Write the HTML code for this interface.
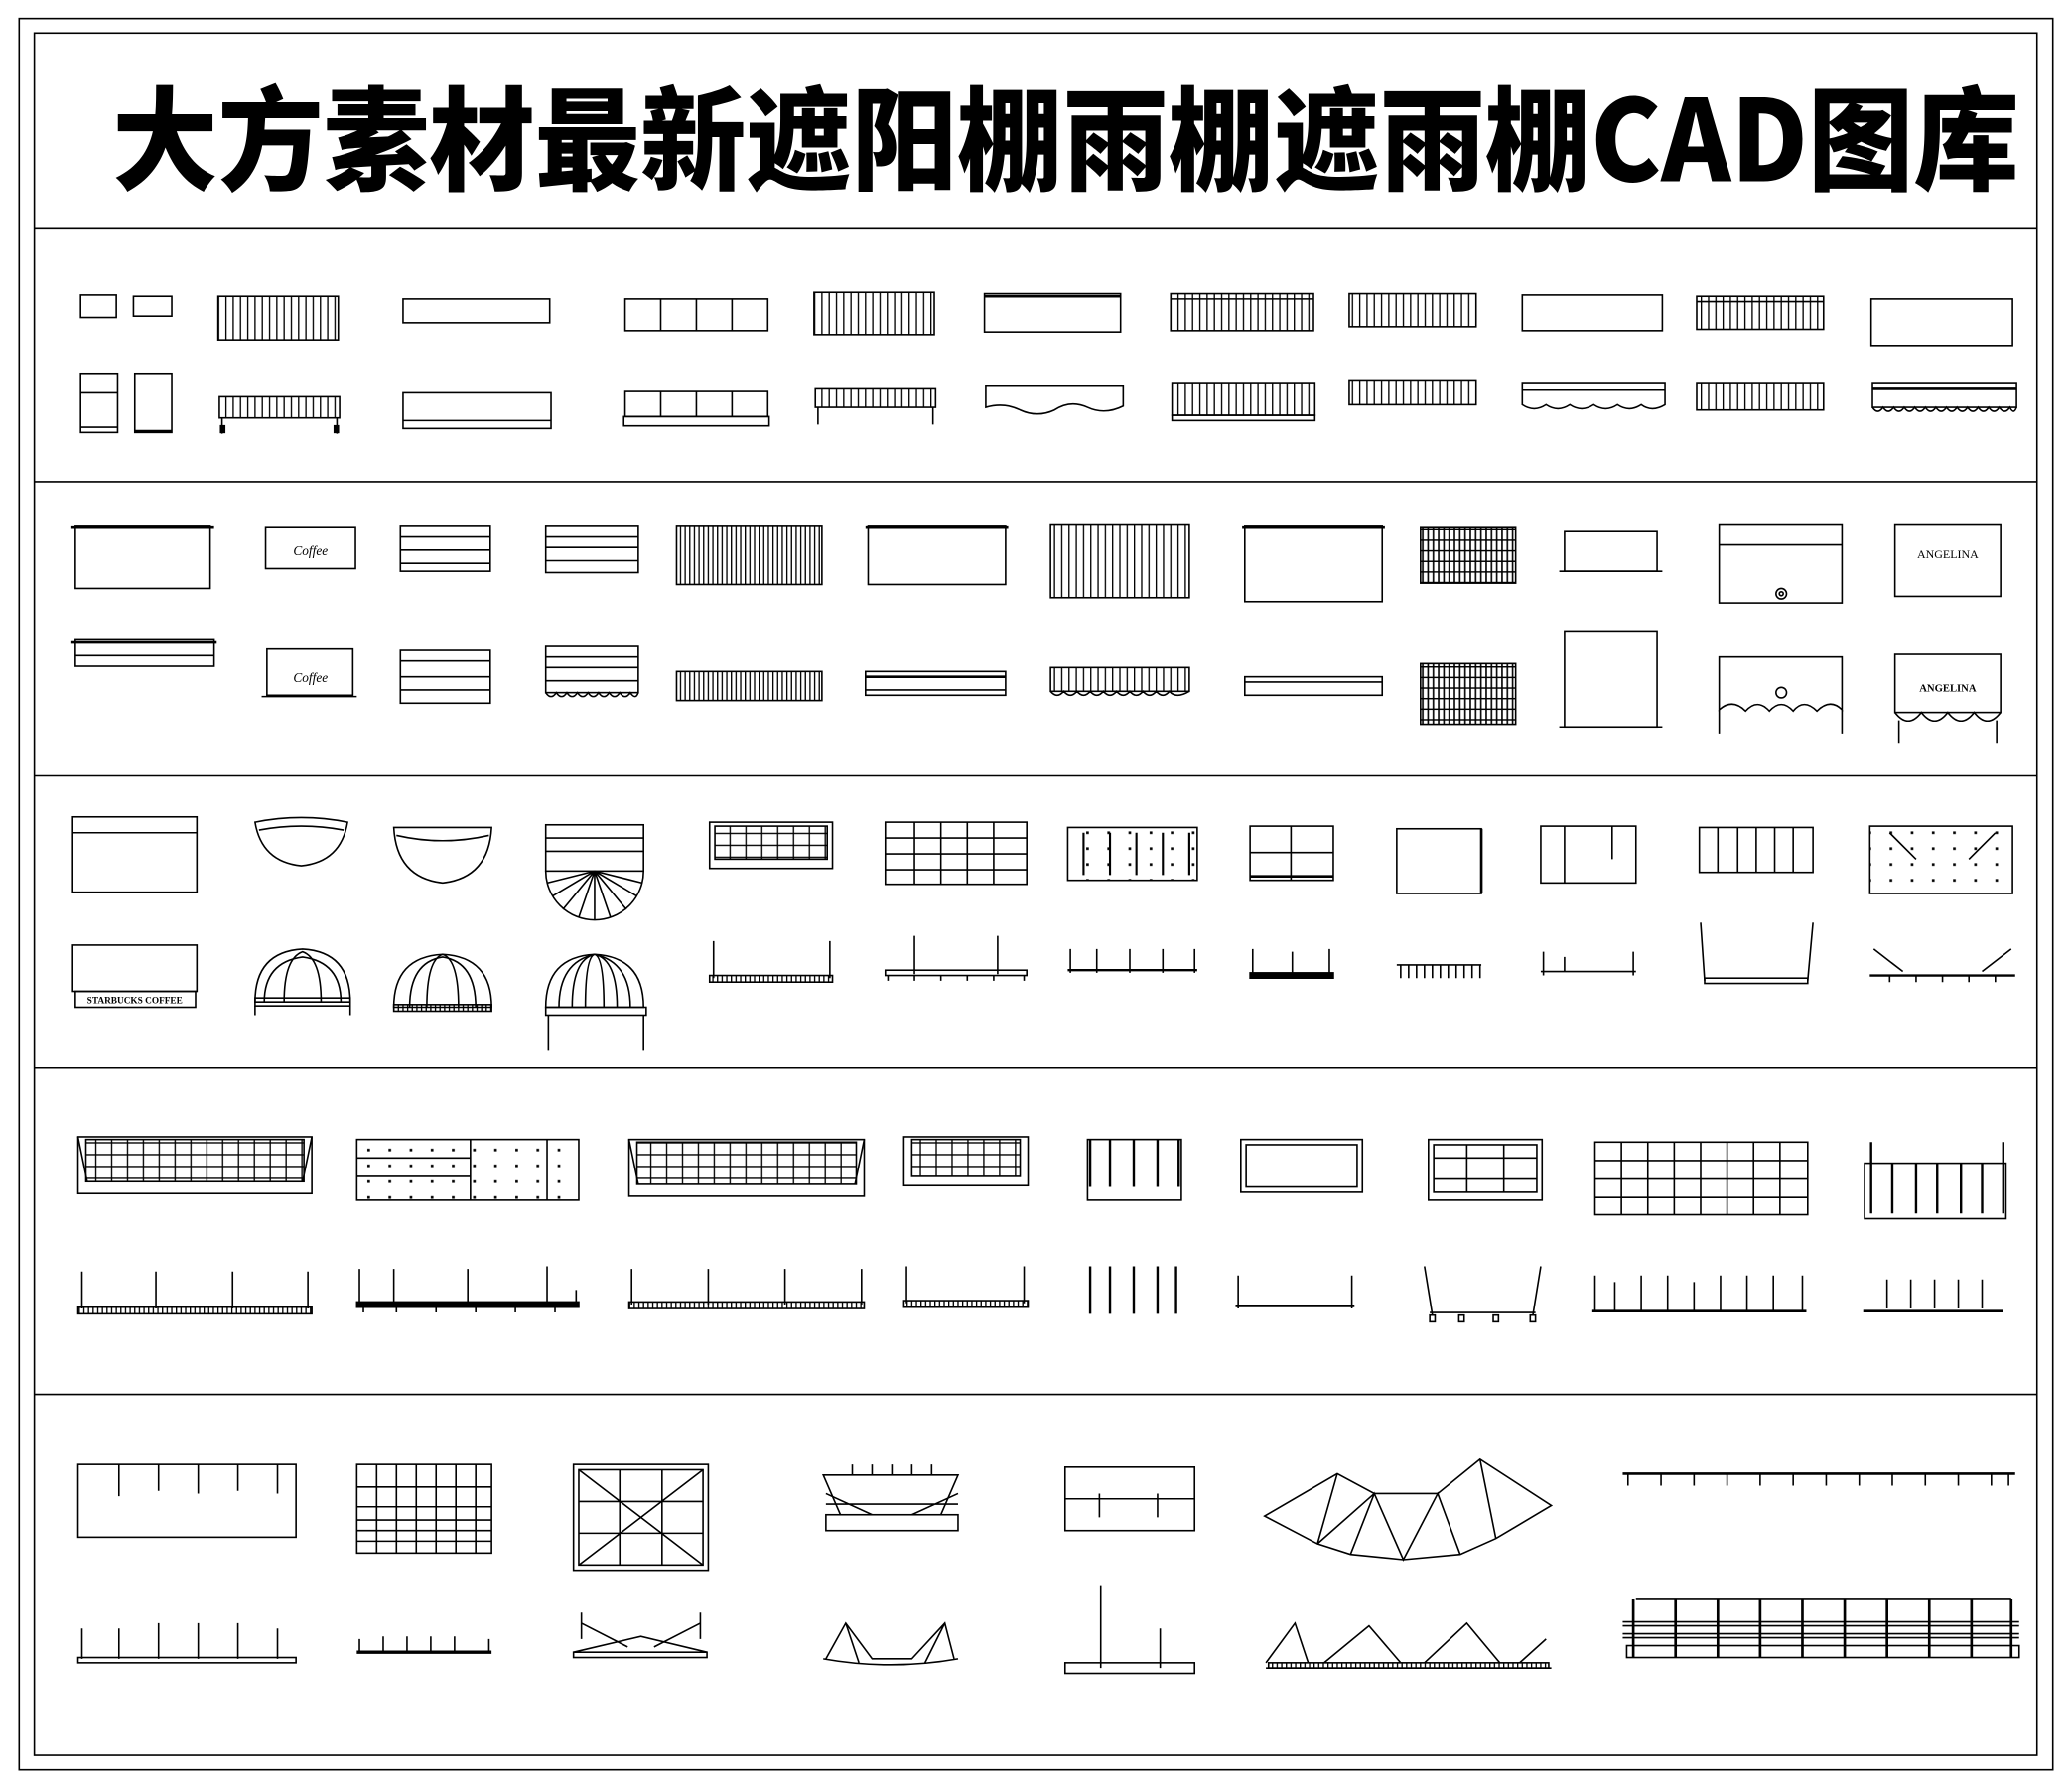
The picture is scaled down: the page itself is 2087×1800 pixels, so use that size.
<!DOCTYPE html>
<html><head><meta charset="utf-8"><style>
html,body{margin:0;padding:0;background:#fff}
svg{display:block}
</style></head><body>
<svg width="2087" height="1800" viewBox="0 0 1568 1352" preserveAspectRatio="none" xmlns="http://www.w3.org/2000/svg">
<defs>
<pattern id="vs" width="5.5" height="10" patternUnits="userSpaceOnUse"><line x1="0.5" y1="0" x2="0.5" y2="10" stroke="#000" stroke-width="1"/></pattern>
<pattern id="vd" width="3.5" height="10" patternUnits="userSpaceOnUse"><line x1="0.5" y1="0" x2="0.5" y2="10" stroke="#000" stroke-width="1"/></pattern>
<pattern id="hs" width="10" height="8" patternUnits="userSpaceOnUse"><line x1="0" y1="0.5" x2="10" y2="0.5" stroke="#000" stroke-width="1"/></pattern>
<pattern id="gr" width="12" height="9" patternUnits="userSpaceOnUse"><path d="M0.5 0V9M0 0.5H12" stroke="#000" stroke-width="1" fill="none"/></pattern>
<pattern id="gd" width="4" height="8" patternUnits="userSpaceOnUse"><path d="M0.7 0V8M0 0.5H4" stroke="#000" stroke-width="1.2" fill="none"/></pattern>
<pattern id="dt" width="16" height="12" patternUnits="userSpaceOnUse"><rect x="6" y="5" width="2" height="2" fill="#000"/></pattern>
<pattern id="post" width="14" height="12" patternUnits="userSpaceOnUse"><rect x="2" y="0" width="2" height="6" fill="#000"/></pattern>
</defs>
<g fill="none" stroke="#000" stroke-width="1.2">
<!-- borders -->
<rect x="14.5" y="14" width="1539" height="1325"/>
<rect x="26" y="25" width="1515.5" height="1303"/>
<line x1="26" y1="173" x2="1541.5" y2="173"/>
<line x1="26" y1="365" x2="1541.5" y2="365"/>
<line x1="26" y1="587" x2="1541.5" y2="587"/>
<line x1="26" y1="808" x2="1541.5" y2="808"/>
<line x1="26" y1="1055" x2="1541.5" y2="1055"/>

<!-- SECTION 1 row1 -->
<rect x="61" y="223" width="27" height="17"/>
<rect x="101" y="224" width="29" height="15"/>
<rect x="165" y="224" width="91" height="33" fill="url(#vs)"/>
<rect x="305" y="226" width="111" height="18"/>
<rect x="473" y="226" width="108" height="24"/><path d="M500 226V250M527 226V250M554 226V250"/>
<rect x="616" y="221" width="91" height="32" fill="url(#vs)"/>
<rect x="745" y="222" width="103" height="29"/><line x1="745" y1="224" x2="848" y2="224" stroke-width="2"/>
<rect x="886" y="222" width="108" height="28" fill="url(#vs)"/><line x1="886" y1="226" x2="994" y2="226"/>
<rect x="1021" y="222" width="96" height="25" fill="url(#vs)"/>
<rect x="1152" y="223" width="106" height="27"/>
<rect x="1284" y="224" width="96" height="25" fill="url(#vs)"/><line x1="1284" y1="228" x2="1380" y2="228"/>
<rect x="1416" y="226" width="107" height="36"/>
<!-- row2 -->
<rect x="61" y="283" width="28" height="44"/><line x1="61" y1="297" x2="89" y2="297"/><line x1="61" y1="323" x2="89" y2="323"/>
<rect x="102" y="283" width="28" height="44"/><line x1="102" y1="326" x2="130" y2="326" stroke-width="2"/>
<rect x="166" y="300" width="91" height="16" fill="url(#vs)"/><path d="M168 316V328M255 316V328"/><rect x="167" y="322" width="3" height="5" fill="#000"/><rect x="253" y="322" width="3" height="5" fill="#000"/>
<rect x="305" y="297" width="112" height="27"/><line x1="305" y1="318" x2="417" y2="318"/>
<rect x="473" y="296" width="108" height="19"/><rect x="472" y="315" width="110" height="7"/><path d="M500 296V315M527 296V315M554 296V315"/>
<rect x="617" y="294" width="91" height="14" fill="url(#vs)"/><path d="M619 308V321M706 308V321"/>
<path d="M746 292H850V307Q836 314 823 308Q810 302 798 310Q785 316 772 310Q760 304 746 308Z"/>
<rect x="887" y="290" width="108" height="24" fill="url(#vs)"/><rect x="887" y="314" width="108" height="4"/>
<rect x="1021" y="288" width="96" height="18" fill="url(#vs)"/>
<path d="M1152 290H1260V306Q1250 312 1242 306Q1233 312 1224 306Q1215 312 1206 306Q1197 312 1188 306Q1179 312 1170 306Q1161 312 1152 306Z"/><line x1="1152" y1="295" x2="1260" y2="295"/>
<rect x="1284" y="290" width="96" height="20" fill="url(#vs)"/>
<rect x="1417" y="290" width="109" height="18"/><line x1="1417" y1="294" x2="1526" y2="294" stroke-width="2"/><path d="M1417 308Q1421 314 1425 308Q1429 314 1433 308Q1437 314 1441 308Q1445 314 1449 308Q1453 314 1457 308Q1461 314 1465 308Q1469 314 1473 308Q1477 314 1481 308Q1485 314 1489 308Q1493 314 1497 308Q1501 314 1505 308Q1509 314 1513 308Q1517 314 1521 308Q1524 314 1526 308"/>

<!-- SECTION 2 row1 -->
<rect x="57" y="398" width="102" height="47"/><line x1="54" y1="399" x2="162" y2="399" stroke-width="2"/>
<rect x="201" y="399" width="68" height="31"/>
<rect x="303" y="398" width="68" height="34"/><path d="M303 406H371M303 416H371M303 426H371"/>
<rect x="413" y="398" width="70" height="35"/><path d="M413 406H483M413 414H483M413 424H483"/>
<rect x="512" y="398" width="110" height="44" fill="url(#vd)"/>
<rect x="657" y="398" width="104" height="44"/><line x1="655" y1="399" x2="763" y2="399" stroke-width="2"/>
<rect x="795" y="397" width="105" height="55" fill="url(#vs)"/>
<rect x="942" y="398" width="104" height="57"/><line x1="940" y1="399" x2="1048" y2="399" stroke-width="2"/>
<rect x="1075" y="399" width="72" height="42" fill="url(#gd)"/>
<rect x="1184" y="402" width="70" height="30"/><line x1="1180" y1="432" x2="1258" y2="432"/>
<rect x="1301" y="397" width="93" height="59"/><line x1="1301" y1="412" x2="1394" y2="412"/><circle cx="1348" cy="449" r="4"/><circle cx="1348" cy="449" r="1.5"/>
<rect x="1434" y="397" width="80" height="54"/>
<!-- row2 -->
<rect x="57" y="484" width="105" height="20"/><line x1="54" y1="486" x2="164" y2="486" stroke-width="2"/><line x1="57" y1="496" x2="162" y2="496"/>
<rect x="202" y="491" width="65" height="35"/><line x1="198" y1="527" x2="270" y2="527"/>
<rect x="303" y="492" width="68" height="40"/><path d="M303 500H371M303 512H371M303 522H371"/>
<rect x="413" y="489" width="70" height="35"/><path d="M413 497H483M413 505H483M413 515H483"/><path d="M413 524Q417 530 421 524Q425 530 429 524Q433 530 437 524Q441 530 445 524Q449 530 453 524Q457 530 461 524Q465 530 469 524Q473 530 477 524Q481 530 483 524"/>
<rect x="512" y="508" width="110" height="22" fill="url(#vd)"/>
<rect x="655" y="508" width="106" height="18"/><line x1="655" y1="512" x2="761" y2="512" stroke-width="2"/><line x1="655" y1="522" x2="761" y2="522"/>
<rect x="795" y="505" width="105" height="18" fill="url(#vs)"/><path d="M795 523Q800 529 805 523Q810 529 815 523Q820 529 825 523Q830 529 835 523Q840 529 845 523Q850 529 855 523Q860 529 865 523Q870 529 875 523Q880 529 885 523Q890 529 900 523"/>
<rect x="942" y="512" width="104" height="14"/><line x1="942" y1="516" x2="1046" y2="516"/>
<rect x="1075" y="502" width="72" height="46" fill="url(#gd)"/>
<rect x="1184" y="478" width="70" height="72"/><line x1="1180" y1="550" x2="1258" y2="550"/>
<path d="M1301 497H1394V537Q1385 528 1375 538Q1365 528 1357 538Q1348 528 1339 538Q1330 528 1321 538Q1311 528 1301 537Z"/><path d="M1301 537V555M1394 537V555"/><circle cx="1348" cy="524" r="4"/>
<rect x="1434" y="495" width="80" height="44"/><path d="M1434 539Q1444 552 1454 539Q1464 552 1474 539Q1484 552 1494 539Q1504 552 1514 539"/><path d="M1437 545V562M1511 545V562"/>

<!-- SECTION 3 row1 -->
<rect x="55" y="618" width="94" height="57"/><line x1="55" y1="630" x2="149" y2="630"/>
<path d="M193 622Q228 615 263 622Q258 652 228 655Q198 652 193 622Z"/><path d="M196 628Q228 622 260 628"/>
<path d="M298 626H372Q370 664 335 668Q300 664 298 626Z"/><path d="M300 632Q335 640 370 632"/>
<rect x="413" y="624" width="74" height="35"/><path d="M413 634H487M413 644H487"/><path d="M413 659A37 37 0 0 0 487 659"/><path d="M450 659L414 668M450 659L418 678M450 659L426 688M450 659L438 694M450 659L450 696M450 659L462 694M450 659L474 688M450 659L482 678M450 659L486 668"/>
<rect x="537" y="622" width="93" height="35"/><rect x="541" y="625" width="85" height="25" fill="url(#gr)"/>
<rect x="670" y="622" width="107" height="47"/><path d="M670 634H777M670 646H777M670 658H777M692 622V669M712 622V669M732 622V669M752 622V669"/>
<rect x="808" y="626" width="98" height="40" fill="url(#dt)"/><path d="M820 630V662M840 630V662M860 630V662M880 630V662M900 630V662" stroke-width="1.6"/>
<rect x="946" y="625" width="63" height="41"/><path d="M977 625V666M946 645H1009"/><line x1="946" y1="663" x2="1009" y2="663" stroke-width="2"/>
<rect x="1057" y="627" width="64" height="49"/><line x1="1121" y1="627" x2="1121" y2="676" stroke-width="2"/>
<rect x="1166" y="625" width="72" height="43"/><path d="M1184 625V668M1220 625V650"/>
<rect x="1286" y="626" width="86" height="34"/><path d="M1300 626V660M1315 626V660M1329 626V660M1343 626V660M1357 626V660"/>
<rect x="1415" y="625" width="108" height="51" fill="url(#dt)"/><path d="M1430 630L1450 650M1510 630L1490 650"/>
<!-- row2 -->
<rect x="55" y="715" width="94" height="35"/><rect x="57" y="750" width="91" height="12"/>
<path d="M193 758Q193 720 229 718Q265 720 265 758Z"/><path d="M200 758Q200 728 229 724Q258 728 258 758"/><path d="M215 758Q215 725 229 720Q243 725 243 758"/><rect x="193" y="755" width="72" height="6"/><path d="M193 761V768M265 761V768"/>
<path d="M298 762Q298 724 335 722Q372 724 372 762Z"/><path d="M310 762Q310 728 335 724Q360 728 360 762"/><path d="M323 762Q323 726 335 722Q347 726 347 762"/><rect x="298" y="760" width="74" height="5" fill="url(#vd)"/>
<path d="M413 762Q413 724 450 722Q487 724 487 762Z"/><path d="M423 762Q423 728 450 722Q477 728 477 762M433 762Q433 726 450 722Q467 726 467 762M443 762Q443 724 450 722Q457 724 457 762"/><rect x="413" y="762" width="76" height="6"/><path d="M415 768V795M487 768V795"/>
<path d="M540 712V740M628 712V740"/><rect x="537" y="738" width="93" height="5" fill="url(#vd)"/>
<path d="M692 708V737M755 708V737"/><rect x="670" y="734" width="107" height="4"/><path d="M672 738V742M692 738V742M712 738V742M732 738V742M752 738V742M775 738V742"/>
<path d="M810 718V736M830 718V736M855 718V736M880 718V736M904 718V736"/><line x1="808" y1="734" x2="906" y2="734" stroke-width="1.8"/>
<path d="M948 718V740M978 720V740M1006 718V740"/><rect x="946" y="736" width="63" height="4" fill="#000"/>
<path d="M1057 730H1121M1060 730V740M1066 730V740M1072 730V740M1078 730V740M1084 730V740M1090 730V740M1096 730V740M1102 730V740M1108 730V740M1114 730V740M1120 730V740"/>
<path d="M1166 735H1238M1168 720V738M1236 720V738M1184 724V735"/>
<path d="M1287 698L1290 742M1372 698L1368 742"/><rect x="1290" y="740" width="78" height="4"/>
<path d="M1418 718L1440 735M1522 718L1500 735"/><line x1="1415" y1="738" x2="1525" y2="738" stroke-width="1.8"/><path d="M1430 738V743M1450 738V743M1470 738V743M1490 738V743M1510 738V743"/>

<!-- SECTION 4 row1 -->
<rect x="59" y="860" width="177" height="43"/><rect x="65" y="862" width="165" height="32" fill="url(#gr)"/><path d="M59 860L66 894M236 860L229 894"/>
<rect x="270" y="862" width="168" height="46" fill="url(#dt)"/><path d="M270 876H356M270 890H356M356 862V908M414 862V908"/>
<rect x="476" y="862" width="178" height="43"/><rect x="482" y="864" width="166" height="32" fill="url(#gr)"/><path d="M476 862L483 896M654 862L647 896"/>
<rect x="684" y="860" width="94" height="37"/><rect x="690" y="862" width="82" height="28" fill="url(#gr)"/>
<rect x="823" y="862" width="71" height="46"/><path d="M825 862V898M840 862V898M858 862V898M876 862V898M892 862V898" stroke-width="1.8"/>
<rect x="939" y="862" width="92" height="40"/><rect x="943" y="866" width="84" height="32"/>
<rect x="1081" y="862" width="86" height="46"/><rect x="1085" y="866" width="78" height="36"/><path d="M1085 876H1163M1085 892H1163M1110 866V902M1138 866V902"/>
<rect x="1207" y="864" width="161" height="55"/><path d="M1207 878H1368M1207 892H1368M1207 906H1368M1227 864V919M1247 864V919M1267 864V919M1287 864V919M1307 864V919M1327 864V919M1347 864V919"/>
<rect x="1411" y="880" width="107" height="42"/><path d="M1416 864V918M1432 880V918M1450 880V918M1466 880V918M1484 880V918M1500 880V918M1516 864V918" stroke-width="1.8"/>
<!-- row2 -->
<path d="M62 962V990M118 962V990M176 962V990M233 962V990"/><rect x="59" y="989" width="177" height="5" fill="url(#vd)"/>
<path d="M272 960V987M298 960V987M354 960V987M414 958V987M436 976V987"/><rect x="270" y="985" width="168" height="4" fill="#000"/><path d="M275 989V993M300 989V993M330 989V993M360 989V993M390 989V993M420 989V993"/>
<path d="M478 960V987M536 960V987M594 960V987M652 960V987"/><rect x="476" y="985" width="178" height="5" fill="url(#vd)"/>
<path d="M686 958V986M775 958V986"/><rect x="684" y="984" width="94" height="5" fill="url(#vd)"/>
<path d="M825 958V994M840 958V994M858 958V994M876 958V994M890 958V994" stroke-width="1.8"/>
<path d="M937 965V990M1023 965V990"/><line x1="935" y1="988" x2="1025" y2="988" stroke-width="2"/>
<path d="M1078 958L1084 995M1166 958L1160 995"/><line x1="1082" y1="993" x2="1162" y2="993"/><rect x="1082" y="995" width="4" height="5"/><rect x="1104" y="995" width="4" height="5"/><rect x="1130" y="995" width="4" height="5"/><rect x="1158" y="995" width="4" height="5"/>
<path d="M1207 965V992M1222 970V992M1242 965V992M1262 965V992M1282 970V992M1302 965V992M1322 965V992M1342 965V992M1364 965V992"/><line x1="1205" y1="992" x2="1367" y2="992" stroke-width="2"/>
<path d="M1428 968V990M1446 968V990M1464 968V990M1482 968V990M1500 968V990"/><line x1="1410" y1="992" x2="1516" y2="992" stroke-width="2"/>

<!-- SECTION 5 row1 -->
<rect x="59" y="1108" width="165" height="55"/><path d="M90 1108V1132M120 1108V1128M150 1108V1130M180 1108V1128M210 1108V1130"/>
<rect x="270" y="1108" width="102" height="67"/><path d="M270 1125H372M270 1140H372M270 1150H372M270 1158H372M270 1166H372M285 1108V1175M300 1108V1175M315 1108V1175M330 1108V1175M345 1108V1175M360 1108V1175"/>
<rect x="434" y="1108" width="102" height="80"/><rect x="438" y="1112" width="94" height="72"/><path d="M438 1112L532 1184M532 1112L438 1184M438 1136H532M438 1160H532M469 1112V1184M501 1112V1184"/>
<path d="M623 1116H725L712 1146H636Z"/><rect x="625" y="1146" width="100" height="12"/><path d="M625 1130L660 1146M725 1130L690 1146M625 1138H725"/><path d="M645 1108V1116M660 1108V1116M675 1108V1116M690 1108V1116M705 1108V1116"/>
<rect x="806" y="1110" width="98" height="48"/><path d="M806 1134H904M832 1130V1148M876 1130V1148"/>
<path d="M957 1147L1012 1115L1040 1130L1088 1130L1120 1104L1174 1139L1132 1164L1105 1176L1062 1180L1022 1176L997 1168Z"/><path d="M997 1168L1040 1130M1022 1176L1040 1130L1062 1180L1088 1130L1105 1176M1132 1164L1120 1104M1012 1115L997 1168"/>
<path d="M1228 1115H1525" stroke-width="2"/><path d="M1232 1115V1124M1257 1115V1124M1282 1115V1124M1307 1115V1124M1332 1115V1124M1357 1115V1124M1382 1115V1124M1407 1115V1124M1432 1115V1124M1457 1115V1124M1482 1115V1124M1507 1115V1124M1520 1115V1124"/>
<!-- row2 -->
<path d="M62 1232V1255M90 1232V1255M120 1228V1255M150 1228V1255M180 1228V1255M210 1232V1255"/><rect x="59" y="1254" width="165" height="4"/>
<path d="M272 1240V1250M290 1238V1250M308 1238V1250M326 1238V1250M344 1238V1250M370 1240V1250"/><line x1="270" y1="1250" x2="372" y2="1250" stroke-width="2.5"/>
<path d="M434 1250L485 1238L535 1250M440 1220V1240M530 1220V1240M440 1228L475 1246M530 1228L495 1246"/><rect x="434" y="1250" width="101" height="4"/>
<path d="M625 1255L640 1228L660 1255L690 1255L715 1228L722 1255M640 1228L650 1258M715 1228L700 1258"/><path d="M623 1255Q674 1264 725 1255"/>
<path d="M833 1200V1262M878 1232V1262"/><rect x="806" y="1258" width="98" height="8"/>
<path d="M958 1258L980 1228L990 1258M1002 1258L1036 1230L1060 1258M1078 1258L1110 1228L1135 1258M1150 1258L1170 1240"/><path d="M958 1262H1174"/><rect x="960" y="1258" width="212" height="4" fill="url(#vd)"/>
<rect x="1231" y="1245" width="297" height="9"/><path d="M1228 1227H1528M1228 1230H1528M1228 1236H1528M1228 1239H1528M1238 1210H1522"/>
<path d="M1236 1210V1254M1268 1210V1254M1300 1210V1254M1332 1210V1254M1364 1210V1254M1396 1210V1254M1428 1210V1254M1460 1210V1254M1492 1210V1254M1522 1210V1254" stroke-width="2"/>
</g>
<g font-family="Liberation Serif, serif" fill="#000">
<text x="235" y="420" font-size="10" font-style="italic" text-anchor="middle">Coffee</text>
<text x="235" y="516" font-size="10" font-style="italic" text-anchor="middle">Coffee</text>
<text x="1474" y="422" font-size="9" text-anchor="middle">ANGELINA</text>
<text x="1474" y="523" font-size="8" font-weight="bold" text-anchor="middle">ANGELINA</text>
<text x="102" y="759" font-size="7" font-weight="bold" text-anchor="middle">STARBUCKS COFFEE</text>
</g>
<text x="85" y="137" font-size="85" font-weight="900" textLength="1443" lengthAdjust="spacingAndGlyphs" font-family="'Noto Sans CJK SC','WenQuanYi Zen Hei',sans-serif" fill="#000">大方素材最新遮阳棚雨棚遮雨棚CAD图库</text>
</svg>
</body></html>
